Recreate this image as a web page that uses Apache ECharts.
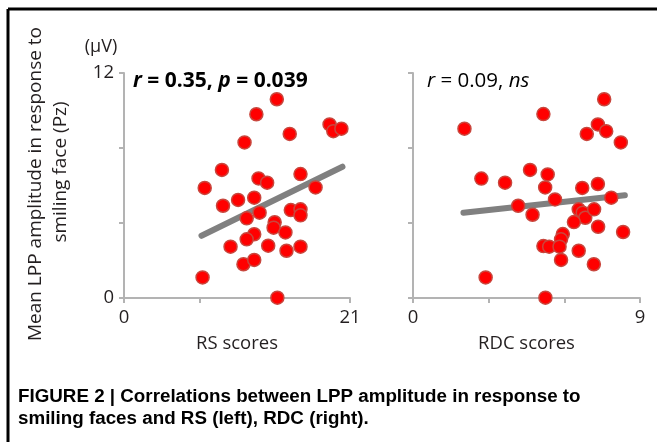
<!DOCTYPE html>
<html>
<head>
<meta charset="utf-8">
<script src="https://cdn.jsdelivr.net/npm/echarts@6/dist/echarts.min.js"></script>
<style>
  html, body { margin: 0; padding: 0; background: #fff; }
  #chart { width: 657px; height: 442px; }
</style>
</head>
<body>
<div id="chart"></div>
<script>
// RS scores vs LPP amplitude (left panel)
const rsPoints = [
  [14.2, 10.6], [12.3, 9.8], [19.1, 9.26], [19.45, 8.9], [20.2, 9.03],
  [15.4, 8.75], [11.2, 8.3], [9.1, 6.83], [12.5, 6.38], [13.3, 6.15],
  [16.4, 6.61], [17.8, 5.9], [7.5, 5.87], [10.6, 5.23], [12.1, 5.35],
  [9.2, 4.92], [12.6, 4.55], [11.4, 4.25], [15.5, 4.69], [16.4, 4.73],
  [16.4, 4.41], [14.0, 4.04], [13.9, 3.75], [15.0, 3.5], [12.1, 3.4],
  [11.4, 3.13], [9.9, 2.74], [13.4, 2.79], [15.1, 2.52], [16.4, 2.74],
  [11.1, 1.8], [12.1, 2.03], [7.3, 1.1], [14.25, 0.02]
];
const rsTrend = [[7.2, 3.32], [20.3, 7.0]];

// RDC scores vs LPP amplitude (right panel)
const rdcPoints = [
  [7.58, 10.6], [5.17, 9.81], [2.04, 9.03], [7.33, 9.26], [7.66, 8.9],
  [6.89, 8.75], [8.24, 8.3], [4.64, 6.83], [5.34, 6.59], [2.71, 6.37],
  [3.65, 6.15], [5.24, 5.9], [6.71, 5.87], [7.33, 6.08], [7.86, 5.35],
  [5.63, 5.26], [4.17, 4.92], [4.74, 4.44], [6.57, 4.73], [6.73, 4.55],
  [6.83, 4.28], [7.18, 4.73], [6.38, 4.05], [7.34, 3.8], [8.33, 3.52],
  [5.94, 3.41], [5.87, 3.13], [5.17, 2.77], [5.4, 2.74], [5.81, 2.74],
  [6.57, 2.52], [5.87, 2.03], [7.17, 1.8], [2.88, 1.1], [5.25, 0.02]
];
const rdcTrend = [[2.0, 4.55], [8.4, 5.48]];

const yTickLabels = [0, 12];
const rsTickLabels = [0, 21];
const rdcTickLabels = [0, 9];

const font = '"Open Sans", "Noto Sans", sans-serif';
const axisGray = '#b3b3b3';
const textColor = '#231f20';

function makeX(idx, max, interval, labels, name) {
  return {
    gridIndex: idx, type: 'value', min: 0, max: max, interval: interval,
    name: name, nameLocation: 'middle', nameGap: 36,
    nameTextStyle: { fontFamily: font, fontSize: 18.5, color: textColor },
    axisLine: { onZero: false, lineStyle: { color: axisGray, width: 2 } },
    axisTick: { show: true, length: 5, lineStyle: { color: axisGray, width: 2 } },
    splitLine: { show: false },
    axisLabel: {
      fontFamily: font, fontSize: 18.5, color: textColor, margin: 10,
      formatter: v => labels.includes(v) ? String(v) : ''
    }
  };
}

function makeY(idx, showLabels) {
  return {
    gridIndex: idx, type: 'value', min: 0, max: 12, interval: 4,
    axisLine: { show: true, onZero: false, lineStyle: { color: axisGray, width: 2 } },
    axisTick: { show: true, length: 5, lineStyle: { color: axisGray, width: 2 } },
    splitLine: { show: false },
    axisLabel: {
      show: showLabels, fontFamily: font, fontSize: 18.5, color: textColor, margin: 10,
      formatter: v => yTickLabels.includes(v) ? String(v) : ''
    }
  };
}

const dotStyle = { color: '#ff0000', borderColor: '#c9463d', borderWidth: 1.5, opacity: 1 };
const trendStyle = { color: '#808080', width: 6, cap: 'round' };

const chart = echarts.init(document.getElementById('chart'), null, { renderer: 'canvas' });
chart.setOption({
  animation: false,
  backgroundColor: '#fff',
  grid: [
    { left: 124, right: 307, top: 73, bottom: 144 },
    { left: 413, right: 17, top: 73, bottom: 144 }
  ],
  xAxis: [
    makeX(0, 21, 7, rsTickLabels, 'RS scores'),
    makeX(1, 9, 3, rdcTickLabels, 'RDC scores')
  ],
  yAxis: [makeY(0, true), makeY(1, false)],
  series: [
    { type: 'line', xAxisIndex: 0, yAxisIndex: 0, data: rsTrend, symbol: 'none',
      lineStyle: trendStyle, z: 2 },
    { type: 'scatter', xAxisIndex: 0, yAxisIndex: 0, data: rsPoints, symbolSize: 13,
      itemStyle: dotStyle, z: 3 },
    { type: 'line', xAxisIndex: 1, yAxisIndex: 1, data: rdcTrend, symbol: 'none',
      lineStyle: trendStyle, z: 2 },
    { type: 'scatter', xAxisIndex: 1, yAxisIndex: 1, data: rdcPoints, symbolSize: 13,
      itemStyle: dotStyle, z: 3 }
  ],
  graphic: [
    // frame (left and top edges)
    { type: 'line', shape: { x1: 8, y1: 9, x2: 657, y2: 9 }, style: { stroke: '#000', lineWidth: 3 } },
    { type: 'line', shape: { x1: 8, y1: 9, x2: 8, y2: 442 }, style: { stroke: '#000', lineWidth: 3 } },
    // y axis title
    { type: 'text', x: 36, y: 184, rotation: Math.PI / 2,
      style: { text: 'Mean LPP amplitude in response to', fontFamily: font, fontSize: 19,
        fill: textColor, align: 'center', verticalAlign: 'middle' } },
    { type: 'text', x: 61, y: 172, rotation: Math.PI / 2,
      style: { text: 'smiling face (Pz)', fontFamily: font, fontSize: 19,
        fill: textColor, align: 'center', verticalAlign: 'middle' } },
    { type: 'text', x: 101, y: 47,
      style: { text: '(\u03bcV)', fontFamily: font, fontSize: 18, fill: textColor,
        align: 'center', verticalAlign: 'middle' } },
    // correlation annotations
    { type: 'text', x: 133, y: 81,
      style: { text: '{i|r} = 0.35, {i|p} = 0.039', fontFamily: font, fontSize: 21,
        fontWeight: 'bold', fill: '#000', verticalAlign: 'middle',
        rich: { i: { fontFamily: font, fontSize: 21, fontWeight: 'bold', fontStyle: 'italic', fill: '#000' } } } },
    { type: 'text', x: 427, y: 81,
      style: { text: '{i|r} = 0.09, {i|ns}', fontFamily: font, fontSize: 20.5,
        fill: '#000', verticalAlign: 'middle',
        rich: { i: { fontFamily: font, fontSize: 20.5, fontStyle: 'italic', fill: '#000' } } } },
    // caption
    { type: 'text', x: 18, y: 397,
      style: { text: 'FIGURE 2 | Correlations between LPP amplitude in response to',
        fontFamily: '"Liberation Sans", Arial, sans-serif', fontSize: 18.8, fontWeight: 'bold',
        fill: '#000', verticalAlign: 'middle' } },
    { type: 'text', x: 18, y: 419,
      style: { text: 'smiling faces and RS (left), RDC (right).',
        fontFamily: '"Liberation Sans", Arial, sans-serif', fontSize: 18.8, fontWeight: 'bold',
        fill: '#000', verticalAlign: 'middle' } }
  ]
});
</script>
</body>
</html>
